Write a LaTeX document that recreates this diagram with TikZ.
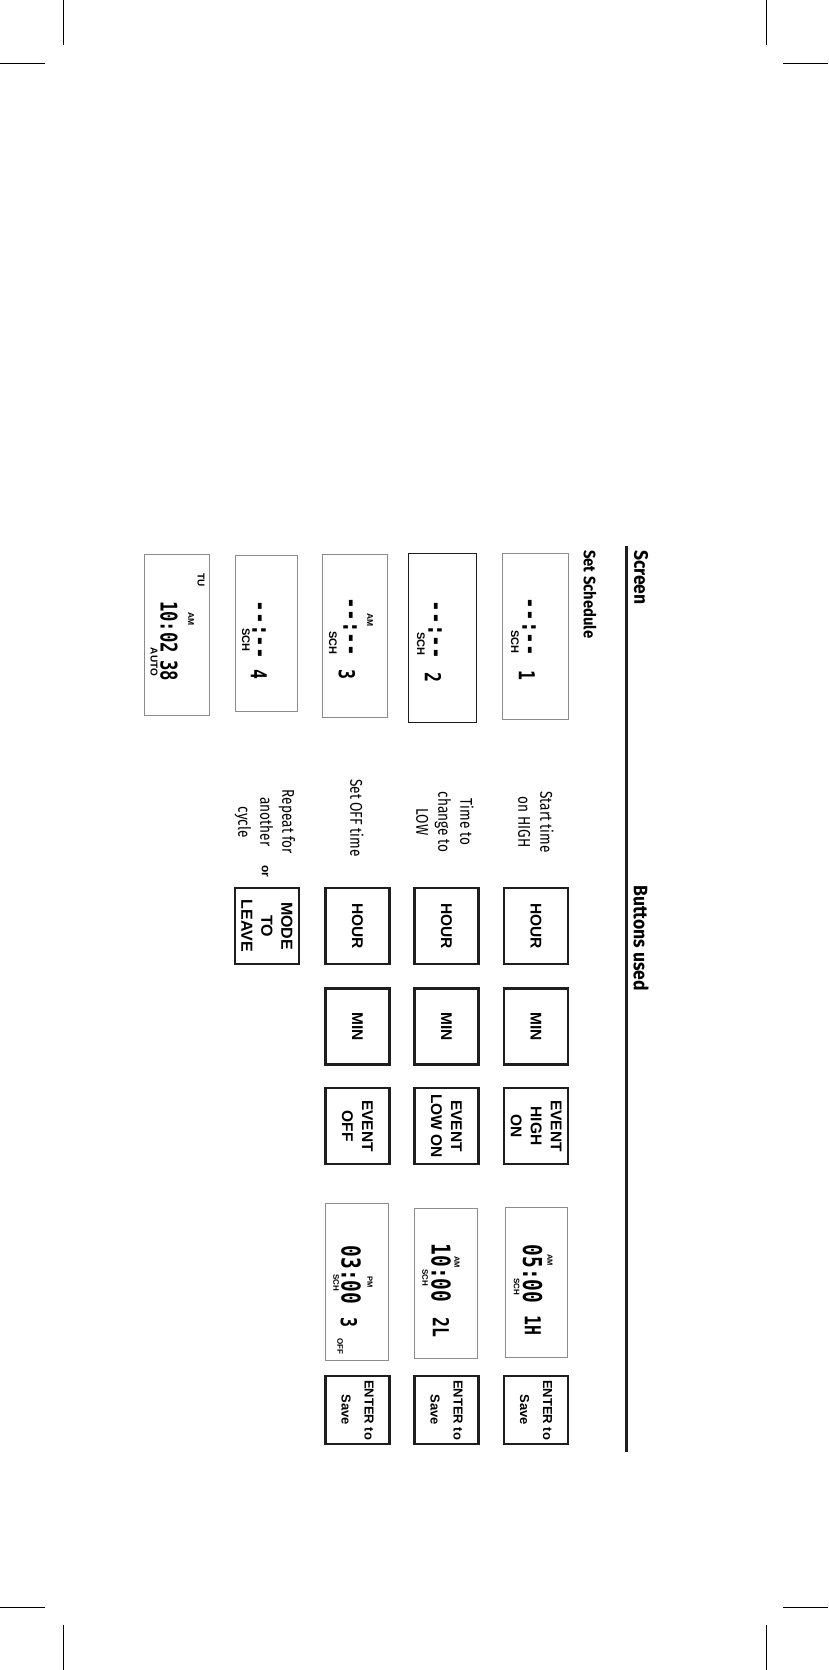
\documentclass[tikz,border=0pt]{standalone}
\usepackage{fontspec}
\setmainfont{Liberation Sans}
\newfontfamily\headfont[FakeStretch=0.9]{Fira Sans}
\newfontfamily\notefont[FakeStretch=0.8]{Fira Sans}
\newfontfamily\lcdfont[FakeStretch=0.75]{DejaVu Sans Mono}
\usetikzlibrary{positioning}
\definecolor{inkblack}{HTML}{1E1E1E}
\definecolor{lcdgray}{HTML}{8C8C8C}

\begin{document}
\begin{tikzpicture}[x=1pt, y=-1pt,
  every node/.style={rotate=-90, inner sep=0pt},
  heading/.style={font=\headfont\bfseries\fontsize{19.5}{22}\selectfont, anchor=west},
  note/.style={font=\notefont\fontsize{17}{22}\selectfont, align=center},
  btn/.style={draw=inkblack, line width=2.6pt, minimum width=76pt, minimum height=64pt, align=center, font=\bfseries\fontsize{15.5}{20}\selectfont},
  savebtn/.style={btn, minimum width=68pt, font=\bfseries\fontsize{13}{23}\selectfont},
  lcd/.style={draw=lcdgray, line width=0.9pt},
  digits/.style={font=\lcdfont\bfseries\fontsize{26}{26}\selectfont},
  evno/.style={font=\lcdfont\bfseries\fontsize{22}{22}\selectfont},
  lcdtag/.style={font=\bfseries\fontsize{#1}{#1}\selectfont},
  lcdtag/.default=8.5,
  crop/.style={line width=0.8pt}
]
\useasboundingbox (0,0) rectangle (828,1670);

\foreach \vx/\hx in {63/0,766/783}
  \foreach \vy/\hy in {0/63,1625/1607} {
    \draw[crop] (\vx,\vy) -- ++(0,45);
    \draw[crop] (\hx,\hy) -- ++(45,0);
  }

\node[heading] (screen) at (641,550) {Screen};
\node[heading] (used) at (641,885) {Buttons used};
\draw[inkblack, line width=3pt] (626,546) -- (626,1452);
\node[heading, font=\headfont\bfseries\fontsize{16.5}{20}\selectfont] (setsch) at (590,550) {Set Schedule};

\node[lcd, minimum width=166pt, minimum height=66pt] (s1) at (535,636) {};
\node[digits] (t1) at (529,627) {-{}-:-{}-};
\node[evno] (n1) at (527,675) {1};
\node[lcdtag=11] (c1) at (515,642) {SCH};

\node[lcd, draw=inkblack, minimum width=169pt, minimum height=68pt] (s2) at (442,637.5) {};
\node[digits] (t2) at (435,630) {-{}-:-{}-};
\node[evno] (n2) at (433,677) {2};
\node[lcdtag=11] (c2) at (421,644) {SCH};

\node[lcd, minimum width=163pt, minimum height=65pt] (s3) at (354.5,635.5) {};
\node[digits] (t3) at (350,627) {-{}-:-{}-};
\node[evno] (n3) at (347,674) {3};
\node[lcdtag] (a3) at (370,620) {AM};
\node[lcdtag=11] (c3) at (333,643) {SCH};

\node[lcd, minimum width=156pt, minimum height=62pt] (s4) at (266,633) {};
\node[digits] (t4) at (259,630) {-{}-:-{}-};
\node[evno] (n4) at (259,674) {4};
\node[lcdtag=11] (c4) at (246,640) {SCH};

\node[lcd, minimum width=161pt, minimum height=65pt] (s5) at (176.5,634.5) {};
\node[lcdtag=10] (day) at (201,580) {TU};
\node[lcdtag] (a5) at (191,619) {AM};
\node[digits, font=\lcdfont\bfseries\fontsize{23}{23}\selectfont] (clock) at (169,627) {10:02};
\node[digits, font=\lcdfont\bfseries\fontsize{23}{23}\selectfont] (secs) at (169,670.5) {38};
\node[lcdtag=10] (auto) at (154,662) {AUTO};

\node[note] (d1) at (536,822) {Start time\\on HIGH};
\node[note] (d2) at (445,822) {Time to\\change to\\LOW};
\node[note] (d3) at (357,818) {Set OFF time};
\node[note] (d4) at (265,822) {Repeat for\\another\\cycle};
\node[font=\bfseries\fontsize{12}{12}\selectfont] (or) at (265,871) {or};

\foreach \x/\n in {536/1,446.5/2,357.5/3} {
  \node[btn] (hour\n) at (\x,926) {HOUR};
  \node[btn] (min\n) at (\x,1026.5) {MIN};
  \node[savebtn] (enter\n) at (\x,1410) {ENTER to\\Save};
}
\node[btn, font=\bfseries\fontsize{16}{20}\selectfont] (mode) at (267,926) {MODE\\TO\\LEAVE};
\node[btn] (ev1) at (536,1126) {EVENT\\HIGH\\ON};
\node[btn] (ev2) at (446.5,1126) {EVENT\\LOW ON};
\node[btn] (ev3) at (357.5,1126) {EVENT\\OFF};

\node[lcd, minimum width=150pt, minimum height=62pt] (r1) at (536,1282) {};
\node[lcdtag=7.5] (ra1) at (550,1260) {AM};
\node[digits] (rt1) at (532.5,1274) {05:00};
\node[lcdtag=8] (rc1) at (516.5,1287) {SCH};
\node[evno] (rn1) at (533,1325) {1H};

\node[lcd, minimum width=150pt, minimum height=63pt] (r2) at (445.5,1283) {};
\node[lcdtag=7.5] (ra2) at (457,1262) {AM};
\node[digits] (rt2) at (441,1273) {10:00};
\node[lcdtag=8] (rc2) at (425,1278) {SCH};
\node[evno] (rn2) at (441,1327) {2L};

\node[lcd, minimum width=157pt, minimum height=63pt] (r3) at (356.5,1281.5) {};
\node[lcdtag=7.5] (ra3) at (370,1282) {PM};
\node[digits] (rt3) at (351,1275) {03:00};
\node[lcdtag=8] (rc3) at (336,1283) {SCH};
\node[evno] (rn3) at (349,1322) {3};
\node[lcdtag=8] (off) at (340,1346) {OFF};
\end{tikzpicture}
\end{document}
